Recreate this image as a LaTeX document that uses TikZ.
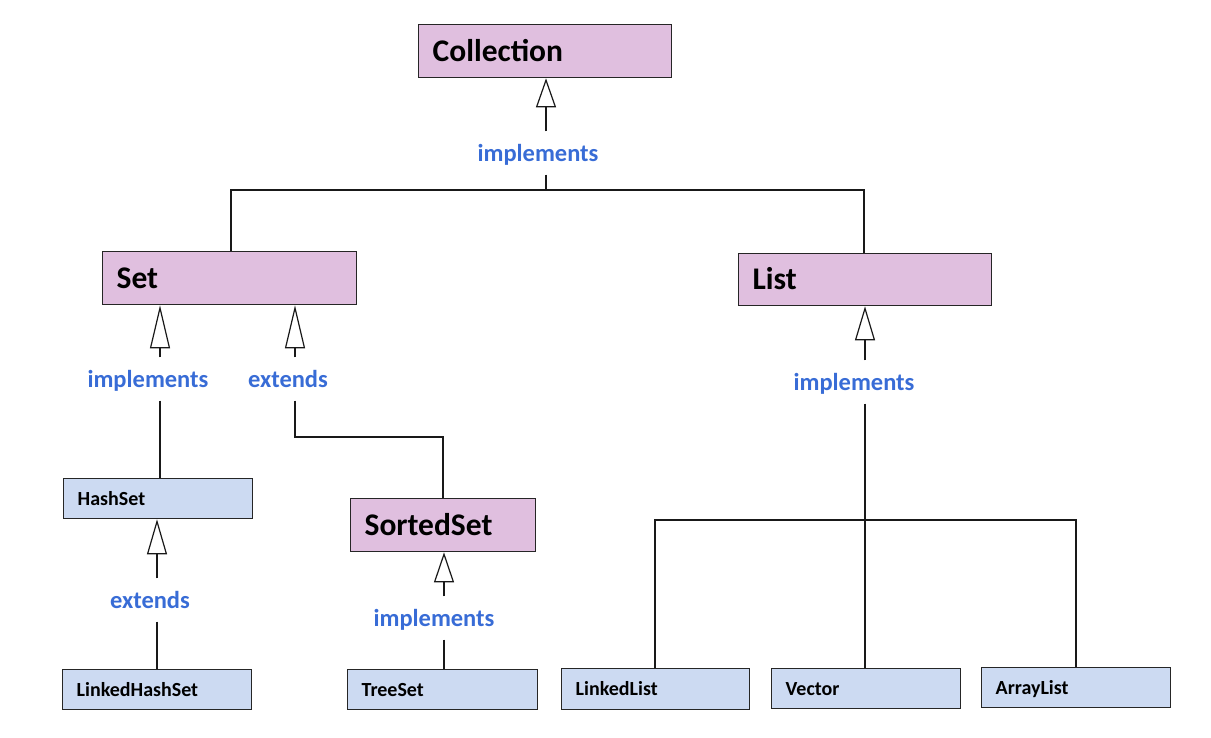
\documentclass[tikz,border=0pt]{standalone}
\usepackage{fontspec}
\setmainfont{Carlito}
\usetikzlibrary{arrows.meta}
\definecolor{pfill}{RGB}{224,191,223}
\definecolor{bfill}{RGB}{204,218,242}
\definecolor{lblue}{RGB}{56,108,214}
\tikzset{
  bigbox/.style={draw=black!85, line width=1.3pt, fill=pfill, anchor=north west,
    inner xsep=14pt, inner ysep=0pt, align=left,
    font=\fontsize{31.5}{36}\selectfont\bfseries, text height=20pt, text depth=0pt},
  smallbox/.style={draw=black!85, line width=1.3pt, fill=bfill, anchor=north west,
    inner xsep=14pt, inner ysep=0pt, align=left,
    font=\fontsize{20}{24}\selectfont\bfseries, text height=13pt, text depth=0pt},
  lbl/.style={text=lblue, font=\fontsize{24.5}{28}\selectfont\bfseries,
    text height=18pt, text depth=2pt, inner xsep=2pt, inner ysep=11.5pt},
  conn/.style={draw=black!90, line width=1.2pt},
  tri/.style={conn, -{Triangle[length=#1, width=20pt, fill=white, line width=1.2pt]}}
}
\begin{document}
\begin{tikzpicture}[x=1pt, y=-1pt]
\useasboundingbox (0,0) rectangle (1211,737);

% boxes
\node[bigbox, minimum width=253pt, minimum height=53pt, text width=225pt] (coll) at (418,24) {Collection};
\node[bigbox, minimum width=254pt, minimum height=53pt, text width=226pt] (set) at (102,251) {Set};
\node[bigbox, minimum width=253pt, minimum height=52pt, text width=225pt] (list) at (738,253) {List};
\node[bigbox, minimum width=185pt, minimum height=53pt, text width=157pt] (sorted) at (350,498) {SortedSet};
\node[smallbox, minimum width=189pt, minimum height=40pt, text width=161pt] (hash) at (63,478) {HashSet};
\node[smallbox, minimum width=189pt, minimum height=40pt, text width=161pt] (lhash) at (62,669) {LinkedHashSet};
\node[smallbox, minimum width=190pt, minimum height=40pt, text width=162pt] (tree) at (347,669) {TreeSet};
\node[smallbox, minimum width=188pt, minimum height=41pt, text width=160pt] (llist) at (561,668) {LinkedList};
\node[smallbox, minimum width=189pt, minimum height=40pt, text width=161pt] (vector) at (771,668) {Vector};
\node[smallbox, minimum width=189pt, minimum height=40pt, text width=161pt] (alist) at (981,667) {ArrayList};

% labels
\node[lbl] (lc) at (538,153) {implements};
\node[lbl] (ls1) at (148,379) {implements};
\node[lbl] (ls2) at (288,379) {extends};
\node[lbl] (ll) at (854,382) {implements};
\node[lbl] (lh) at (150,600) {extends};
\node[lbl] (lt) at (434,618) {implements};

% line x positions and junctions
\coordinate (xc) at (546,0);
\coordinate (xs1) at (160,0);
\coordinate (xs2) at (295,0);
\coordinate (xl) at (865,0);
\coordinate (xh) at (157,0);
\coordinate (xt) at (444,0);
\coordinate (jc) at (546,190);
\coordinate (sx) at (231,0);
\coordinate (lx) at (864,0);
\coordinate (sj) at (443,437);
\coordinate (lj1) at (655,520);
\coordinate (lj2) at (1076,520);

% Collection
\draw[tri=29pt] (lc.north -| xc) -- (coll.south -| xc);
\draw[conn] (lc.south -| xc) -- (jc);
\draw[conn] (set.north -| sx) |- (jc) -| (list.north -| lx);

% Set
\draw[tri=43pt] (ls1.north -| xs1) -- (set.south -| xs1);
\draw[conn] (ls1.south -| xs1) -- (hash.north -| xs1);
\draw[tri=43pt] (ls2.north -| xs2) -- (set.south -| xs2);
\draw[conn] (ls2.south -| xs2) |- (sj) -- (sorted.north -| sj);

% List
\draw[tri=34pt] (ll.north -| xl) -- (list.south -| xl);
\draw[conn] (ll.south -| xl) -- (vector.north -| xl);
\draw[conn] (llist.north -| lj1) -- (lj1) -- (lj2) -- (alist.north -| lj2);

% HashSet
\draw[tri=35pt] (lh.north -| xh) -- (hash.south -| xh);
\draw[conn] (lh.south -| xh) -- (lhash.north -| xh);

% SortedSet
\draw[tri=30pt] (lt.north -| xt) -- (sorted.south -| xt);
\draw[conn] (lt.south -| xt) -- (tree.north -| xt);
\end{tikzpicture}
\end{document}
